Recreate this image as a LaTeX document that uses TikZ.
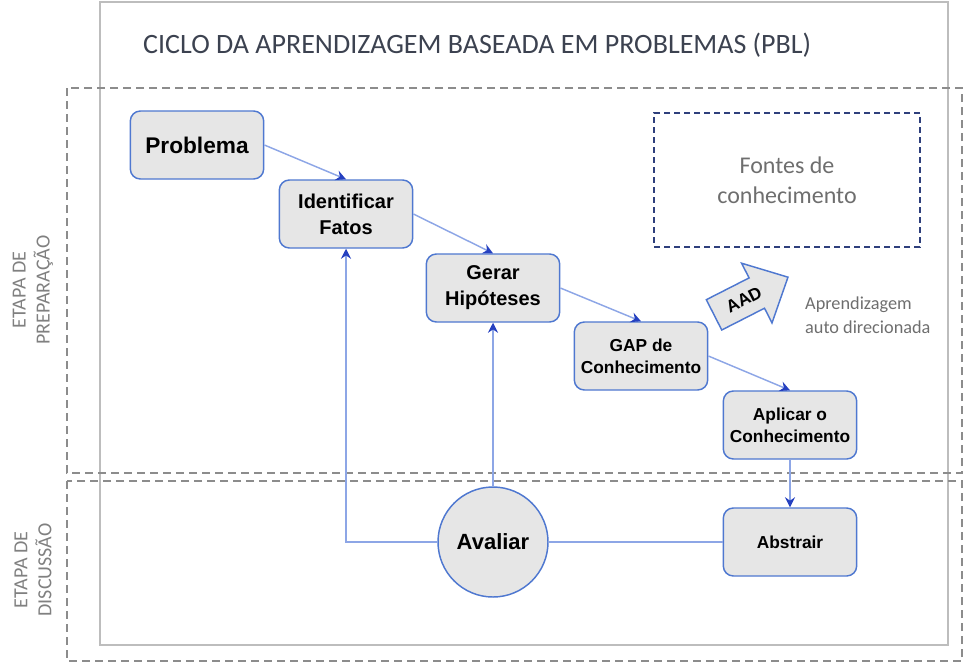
\documentclass[tikz,border=0pt]{standalone}
\usepackage{fontspec}
\setmainfont{Liberation Sans}
\newfontfamily\calibri{Carlito}
\usetikzlibrary{arrows.meta}
\definecolor{boxblue}{HTML}{4F78D0}
\definecolor{boxfill}{HTML}{E6E6E6}
\definecolor{linkblue}{HTML}{8DA6E6}
\definecolor{tipblue}{HTML}{2540C0}
\definecolor{framegray}{HTML}{BDBDBD}
\definecolor{dashgray}{HTML}{8C8C8C}
\definecolor{navyline}{HTML}{2E3F7C}
\definecolor{titlegray}{HTML}{3C4250}
\definecolor{notegray}{HTML}{6E6E6E}
\begin{document}
\begin{tikzpicture}[x=0.75pt,y=-0.75pt,line width=1.1pt,
  stepbox/.style={draw=boxblue,fill=boxfill,rounded corners=7.5pt,align=center,
    font=\bfseries,inner sep=0pt,minimum width=100pt,minimum height=51pt},
  bigtext/.style={font=\fontsize{15}{19.5}\selectfont\bfseries},
  smalltext/.style={font=\fontsize{13}{16.5}\selectfont\bfseries},
  link/.style={draw=linkblue,-{Stealth[color=tipblue,length=7.5pt,width=7.5pt,inset=2.5pt]}},
  plainlink/.style={draw=linkblue},
  stage/.style={dashgray,dash pattern=on 6pt off 3.75pt},
  stagelabel/.style={rotate=90,align=center,text=gray,font=\calibri\fontsize{15}{18}\selectfont}]
\useasboundingbox (0,0) rectangle (963,662);
\draw[framegray,line width=1.5pt] (100,2) rectangle (948,645);
\draw[stage] (67,88) rectangle (962,473);
\draw[stage] (67,481) rectangle (962,661);
\node[anchor=base west,text=titlegray,font=\calibri\fontsize{21}{25}\selectfont] (titulo) at (138,53) {CICLO DA APRENDIZAGEM BASEADA EM PROBLEMAS (PBL)};
\node[stagelabel] (prep) at (33,290) {ETAPA DE\\PREPARAÇÃO};
\node[stagelabel] (disc) at (33,570) {ETAPA DE\\DISCUSSÃO};
\node[stepbox,font=\fontsize{17}{20}\selectfont\bfseries] (prob) at (197,145) {Problema};
\node[stepbox,bigtext] (fatos) at (346,214) {Identificar\\Fatos};
\node[stepbox,bigtext] (hipo) at (493,288) {Gerar\\Hipóteses};
\node[stepbox,smalltext] (gap) at (641,356) {GAP de\\Conhecimento};
\node[stepbox,smalltext] (aplicar) at (790,425) {Aplicar o\\Conhecimento};
\node[stepbox,smalltext] (abstrair) at (790,542) {Abstrair};
\node[circle,draw=boxblue,fill=boxfill,minimum size=82.5pt,inner sep=0pt,
  font=\fontsize{16.5}{20}\selectfont\bfseries] (avaliar) at (493,542) {Avaliar};
\node[draw=navyline,line width=1.5pt,dash pattern=on 4.5pt off 3pt,minimum width=199.5pt,
  minimum height=100.5pt,align=center,text=notegray,
  font=\calibri\fontsize{18}{22.5}\selectfont] (fontes) at (787,180) {Fontes de\\conhecimento};
\begin{scope}[shift={(751,296)},rotate=27]
\draw[boxblue,fill=boxfill] (-41.5,-17) -- (6.5,-17) -- (6.5,-33.5) -- (41.5,0) -- (6.5,33.5) -- (6.5,17) -- (-41.5,17) -- cycle;
\node[rotate=27,font=\fontsize{13}{15}\selectfont\bfseries] (aad) at (-8,0) {AAD};
\end{scope}
\node[anchor=west,align=left,text=notegray,font=\calibri\fontsize{13.7}{18}\selectfont] (nota) at (800,315) {Aprendizagem\\auto direcionada};
\draw[link] (prob.east) -- (fatos.north);
\draw[link] (fatos.east) -- (hipo.north);
\draw[link] (hipo.east) -- (gap.north);
\draw[link] (gap.east) -- (aplicar.north);
\draw[link] (aplicar.south) -- (abstrair.north);
\draw[plainlink] (abstrair.west) -- (avaliar.east);
\draw[link] (avaliar.north) -- (hipo.south);
\draw[link] (avaliar.west) -| (fatos.south);
\end{tikzpicture}
\end{document}
